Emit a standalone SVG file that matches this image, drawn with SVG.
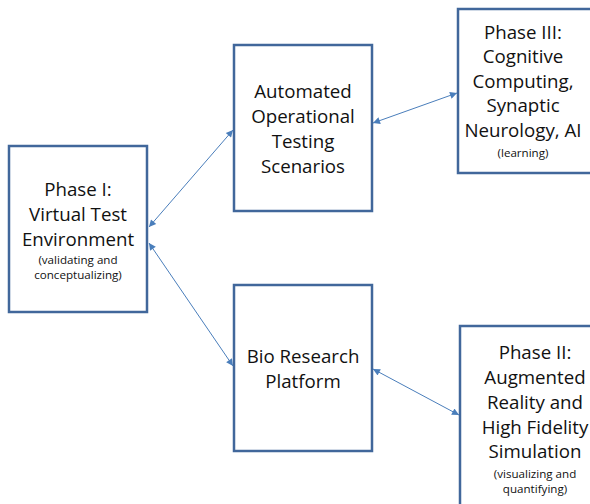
<svg xmlns="http://www.w3.org/2000/svg" width="590" height="504" viewBox="0 0 590 504">
<defs>
<style>
.box{fill:#fff;stroke:#41679B;stroke-width:2.5}
.t{font-family:"Open Sans","Noto Sans",sans-serif;font-size:18.7px;fill:#111;text-anchor:middle}
.s{font-family:"Open Sans","Noto Sans",sans-serif;font-size:11.6px;fill:#111;text-anchor:middle}
.c{stroke:#4A7EBB;stroke-width:1;fill:none;marker-start:url(#a);marker-end:url(#a)}
</style>
<marker id="a" viewBox="0 0 10 10" refX="10" refY="5" markerWidth="9" markerHeight="7" markerUnits="userSpaceOnUse" orient="auto-start-reverse"><path d="M0,0L10,5L0,10z" fill="#4A7EBB"/></marker>
</defs>
<rect width="590" height="504" fill="#fff"/>
<g id="phase1">
<rect class="box" x="9" y="146" width="138" height="166"/>
<text class="t" x="78" y="196">Phase I:</text>
<text class="t" x="78" y="221">Virtual Test</text>
<text class="t" x="78" y="246">Environment</text>
<text class="s" x="78" y="264">(validating and</text>
<text class="s" x="78" y="279">conceptualizing)</text>
</g>
<g id="automated">
<rect class="box" x="234" y="45" width="138" height="166"/>
<text class="t" x="303" y="98">Automated</text>
<text class="t" x="303" y="123">Operational</text>
<text class="t" x="303" y="148">Testing</text>
<text class="t" x="303" y="173">Scenarios</text>
</g>
<g id="phase3">
<rect class="box" x="458" y="9" width="140" height="164"/>
<text class="t" x="523" y="39">Phase III:</text>
<text class="t" x="523" y="63">Cognitive</text>
<text class="t" x="523" y="88">Computing,</text>
<text class="t" x="523" y="112">Synaptic</text>
<text class="t" x="523" y="137">Neurology, AI</text>
<text class="s" x="523" y="157">(learning)</text>
</g>
<g id="bio">
<rect class="box" x="234" y="285" width="138" height="166"/>
<text class="t" x="303" y="363">Bio Research</text>
<text class="t" x="303" y="388">Platform</text>
</g>
<g id="phase2">
<rect class="box" x="460" y="326" width="140" height="190"/>
<text class="t" x="535" y="359">Phase II:</text>
<text class="t" x="535" y="384">Augmented</text>
<text class="t" x="535" y="409">Reality and</text>
<text class="t" x="535" y="434">High Fidelity</text>
<text class="t" x="535" y="458">Simulation</text>
<text class="s" x="535" y="478">(visualizing and</text>
<text class="s" x="535" y="493">quantifying)</text>
</g>
<g id="connectors">
<line class="c" x1="149" y1="227" x2="233" y2="130"/>
<line class="c" x1="149" y1="243" x2="233" y2="366"/>
<line class="c" x1="373" y1="123" x2="457" y2="93"/>
<line class="c" x1="373" y1="369" x2="459" y2="415"/>
</g>
</svg>
